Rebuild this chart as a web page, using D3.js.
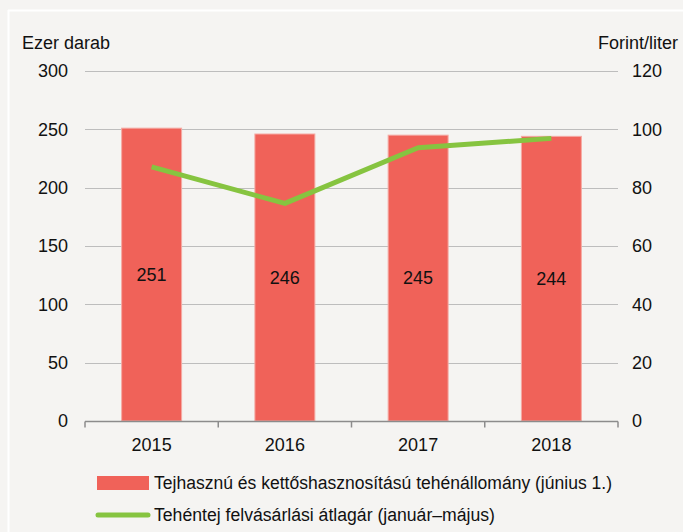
<!DOCTYPE html>
<html>
<head>
<meta charset="utf-8">
<script src="https://cdnjs.cloudflare.com/ajax/libs/d3/7.8.5/d3.min.js"></script>
<style>
  html, body { margin: 0; padding: 0; background: #f5f4f2; }
  text { font-family: "Liberation Sans Narrow", "Arial Narrow", "Liberation Sans", Arial, sans-serif; fill: #111; }
</style>
</head>
<body>
<div id="chart"></div>
<script>
var years = ["2015", "2016", "2017", "2018"];
var herd = [251, 246, 245, 244];          // ezer darab
var price = [87.1, 74.6, 93.7, 96.9];     // forint/liter
var leftTicks = [0, 50, 100, 150, 200, 250, 300];
var rightTicks = [0, 20, 40, 60, 80, 100, 120];
var legendLabels = [
    "Tejhasznú és kettőshasznosítású tehénállomány (június 1.)",
    "Tehéntej felvásárlási átlagár (január–május)"
];

var width = 683, height = 532;
var barColor = "#f06259", lineColor = "#86c440";

var svg = d3.select("#chart").append("svg")
    .attr("width", width)
    .attr("height", height);

svg.append("rect").attr("width", width).attr("height", height).attr("fill", "#f5f4f2");
// white frame lines
svg.append("line").attr("x1", 8).attr("x2", width).attr("y1", 10.5).attr("y2", 10.5)
    .style("stroke", "#fff").style("stroke-width", 2);
svg.append("line").attr("x1", 8.5).attr("x2", 8.5).attr("y1", 10).attr("y2", height)
    .style("stroke", "#fff").style("stroke-width", 2);

var plotLeft = 85, plotRight = 618, plotTop = 71, plotBottom = 421;

var x = d3.scaleBand().domain(years).range([plotLeft, plotRight]).paddingInner(0.55).paddingOuter(0.275);
var xc = d3.scalePoint().domain(years).range([plotLeft, plotRight]).padding(0.5);
var y = d3.scaleLinear().domain([0, 300]).range([plotBottom, plotTop]);
var y2 = d3.scaleLinear().domain([0, 120]).range([plotBottom, plotTop]);

// gridlines
svg.append("g").selectAll("line")
    .data(leftTicks.slice(1))
    .enter().append("line")
    .attr("x1", plotLeft).attr("x2", plotRight)
    .attr("y1", function(d){ return Math.round(y(d)) + 0.5; })
    .attr("y2", function(d){ return Math.round(y(d)) + 0.5; })
    .style("stroke", "#bdbdbd").style("stroke-width", 1);

// left axis labels
svg.append("g").selectAll("text")
    .data(leftTicks)
    .enter().append("text")
    .attr("x", 68)
    .attr("y", function(d){ return y(d); })
    .attr("dy", "0.35em")
    .attr("text-anchor", "end")
    .style("font-size", "18px")
    .text(function(d){ return d; });

// right axis labels
svg.append("g").selectAll("text")
    .data(rightTicks)
    .enter().append("text")
    .attr("x", 632)
    .attr("y", function(d){ return y2(d); })
    .attr("dy", "0.35em")
    .attr("text-anchor", "start")
    .style("font-size", "18px")
    .text(function(d){ return d; });

svg.append("text").attr("x", 22).attr("y", 43).attr("dy", "0.35em")
    .style("font-size", "18px").text("Ezer darab");
svg.append("text").attr("x", 678).attr("y", 43).attr("dy", "0.35em")
    .attr("text-anchor", "end").style("font-size", "18px").text("Forint/liter");

// bars
svg.append("g").selectAll("rect")
    .data(herd)
    .enter().append("rect")
    .attr("x", function(d, i){ return x(years[i]); })
    .attr("width", x.bandwidth())
    .attr("y", function(d){ return y(d); })
    .attr("height", function(d){ return y(0) - y(d); })
    .attr("fill", barColor)
    .style("stroke", "#f5aaa4").style("stroke-width", 1);

// bar labels
svg.append("g").selectAll("text")
    .data(herd)
    .enter().append("text")
    .attr("x", function(d, i){ return xc(years[i]); })
    .attr("y", function(d){ return (y(d) + y(0)) / 2; })
    .attr("dy", "0.35em")
    .attr("text-anchor", "middle")
    .style("font-size", "18px")
    .text(function(d){ return d; });

// x axis
var gx = svg.append("g").attr("transform", "translate(0," + (plotBottom + 0.5) + ")");
gx.append("line").attr("x1", plotLeft).attr("x2", plotRight).style("stroke", "#8c8c8c").style("stroke-width", 1.5);
gx.selectAll("line.tick")
    .data(d3.range(years.length + 1))
    .enter().append("line")
    .attr("class", "tick")
    .attr("x1", function(d){ return plotLeft + d * x.step(); })
    .attr("x2", function(d){ return plotLeft + d * x.step(); })
    .attr("y1", 0).attr("y2", 6)
    .style("stroke", "#8c8c8c").style("stroke-width", 1.5);
gx.selectAll("text.lab")
    .data(years)
    .enter().append("text")
    .attr("class", "lab")
    .attr("x", function(d){ return xc(d); })
    .attr("y", 23)
    .attr("dy", "0.35em")
    .attr("text-anchor", "middle")
    .style("font-size", "18px")
    .text(function(d){ return d; });

// price line
svg.append("path")
    .datum(price)
    .attr("d", d3.line()
        .x(function(d, i){ return xc(years[i]); })
        .y(function(d){ return y2(d); }))
    .style("fill", "none")
    .style("stroke", lineColor)
    .style("stroke-width", 5)
    .style("stroke-linejoin", "round");

// legend
var lg = svg.append("g");
lg.append("rect").attr("x", 97).attr("y", 476).attr("width", 52).attr("height", 14).attr("fill", barColor);
lg.append("text").attr("x", 154).attr("y", 483).attr("dy", "0.35em").style("font-size", "18px")
    .attr("textLength", 458).attr("lengthAdjust", "spacingAndGlyphs").text(legendLabels[0]);
lg.append("line").attr("x1", 98).attr("x2", 148).attr("y1", 515).attr("y2", 515)
    .style("stroke", lineColor).style("stroke-width", 5).style("stroke-linecap", "round");
lg.append("text").attr("x", 154).attr("y", 515).attr("dy", "0.35em").style("font-size", "18px")
    .attr("textLength", 341).attr("lengthAdjust", "spacingAndGlyphs").text(legendLabels[1]);
</script>
</body>
</html>
